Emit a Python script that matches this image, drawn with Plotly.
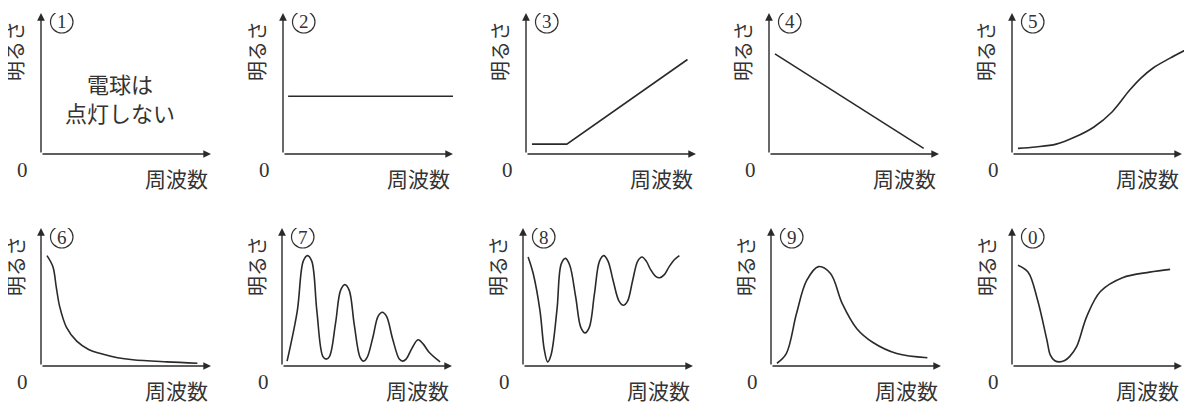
import plotly.graph_objects as go

# panel numbers (drawn inside circles), row 1 then row 2
labels = ["1", "2", "3", "4", "5", "6", "7", "8", "9", "0"]
y_title = "明るさ"
x_title = "周波数"
origin_label = "0"
note_text = "電球は<br>点灯しない"

# curves, x and y on a 0-100 scale (axis arrow tips at 100)
p1_x, p1_y = [], []
p2_x = [3, 100]
p2_y = [41, 41]
p3_x = [3.5, 24, 95]
p3_y = [7, 7, 67]
p4_x = [3.5, 91]
p4_y = [71, 4]
p5_x = [3.5, 14, 26, 37, 48, 59, 69, 76, 83, 93, 104]
p5_y = [4, 5, 7, 12, 19, 30, 45, 54, 61, 68, 75]
p6_x = [3.5, 7, 9, 11, 15, 21, 28, 35, 45, 54, 74, 92]
p6_y = [80, 72, 57, 43, 28, 18, 12, 9, 6, 4.5, 3, 2]
p7_x = [3, 9, 12.5, 15, 17.5, 20.5, 24, 26, 28, 31.5, 34.5, 37, 39.5, 42.5, 46, 48, 50,
        53.5, 56.5, 59, 61.5, 65, 69, 71, 73, 76.5, 80, 83, 86.5, 93]
p7_y = [3.5, 40, 76, 80, 76, 40, 7, 5, 7, 31, 55, 59, 55, 30, 6, 3.5, 6,
        21, 36, 39, 36, 20, 5, 3.5, 5, 13, 19, 16, 10, 3]
p8_x = [3, 6, 10, 12.5, 14.5, 16.5, 20, 22.5, 25, 27.5, 31, 34, 36.5, 39, 42, 45, 47.5,
        50, 53, 56.5, 59, 61.5, 64.5, 67.5, 70, 72.5, 75, 78, 80.5, 83, 86, 89, 92]
p8_y = [79, 67, 40, 12, 3, 8, 41, 74, 78, 73, 50, 28, 24, 28, 52, 76, 80,
        76, 62, 47, 44, 47, 62, 76, 79, 76, 70, 65, 64, 66, 72, 77, 80]
p9_x = [3.5, 9, 15, 21, 28, 35, 42, 50.5, 60, 74, 92]
p9_y = [2, 9, 38, 62, 72, 67, 45, 27, 17, 9, 6]
p0_x = [3.5, 9.5, 15, 20.5, 22.5, 25, 28, 31, 34, 38, 44, 52, 65, 81, 93]
p0_y = [73, 68, 48, 19, 8, 4, 3, 4, 7, 14, 36, 54, 64, 68, 70]

series = [(p1_x, p1_y), (p2_x, p2_y), (p3_x, p3_y), (p4_x, p4_y), (p5_x, p5_y),
          (p6_x, p6_y), (p7_x, p7_y), (p8_x, p8_y), (p9_x, p9_y), (p0_x, p0_y)]
straight = {1, 2, 3}   # panels drawn with straight segments

# the page body adds an 8px margin, so the figure is sized to fit inside it
W, H = 1184, 395
OFF = 8
AX_LEN = 170        # px from origin to arrow tip along x
PANEL_W = 180       # px width of each plotting domain
ink = "#2a2a2a"
txt = "#333333"
jp_font = "Noto Sans CJK JP"
serif = "Liberation Serif"

# pixel layout (window coordinates): origin x for each panel, baseline / top y per row
origins_x = [[41, 283, 526, 769, 1012], [41, 282, 523, 771, 1012]]
rows = [(154, 13), (366, 228)]

fig = go.Figure()
annotations = []
shapes = []

for i, (xs, ys) in enumerate(series):
    r, c = divmod(i, 5)
    n = i + 1
    ox = origins_x[r][c] - OFF
    base, top = rows[r][0] - OFF, rows[r][1] - OFF
    right = min(ox + PANEL_W, W)
    xa, ya = f"x{n}", f"y{n}"

    fig.update_layout({
        f"xaxis{n}": dict(domain=[ox / W, right / W],
                          range=[0, (right - ox) / AX_LEN * 100],
                          visible=False, anchor=ya),
        f"yaxis{n}": dict(domain=[(H - base) / H, (H - top) / H],
                          range=[0, 100], visible=False, anchor=xa),
    })

    if xs:
        shape = "linear" if i in straight else "spline"
        fig.add_trace(go.Scatter(
            x=xs, y=ys, mode="lines", xaxis=xa, yaxis=ya,
            line=dict(color=ink, width=1.6, shape=shape),
            showlegend=False, hoverinfo="skip"))

    # axes with arrowheads
    for tip in [(100, 0), (0, 100)]:
        annotations.append(dict(
            x=tip[0], y=tip[1], ax=0, ay=0, xref=xa, yref=ya, axref=xa, ayref=ya,
            text="", showarrow=True, arrowhead=2, arrowsize=1.1, arrowwidth=1.4,
            arrowcolor=ink))

    # circled panel number
    shapes.append(dict(
        type="circle", xref=xa, yref=ya, xsizemode="pixel", ysizemode="pixel",
        xanchor=0, yanchor=100, x0=9.5, x1=32, y0=-20, y1=2,
        line=dict(color=txt, width=1.2)))

    annotations += [
        dict(x=0, y=100, xref=xa, yref=ya, text=labels[i], showarrow=False,
             xanchor="center", yanchor="middle", xshift=21, yshift=-9,
             font=dict(family=serif, size=19, color=txt)),
        dict(x=0, y=100, xref=xa, yref=ya, text=y_title, showarrow=False,
             textangle=-90, xanchor="center", yanchor="middle",
             xshift=-26, yshift=-38, font=dict(family=jp_font, size=20, color=txt)),
        dict(x=0, y=0, xref=xa, yref=ya, text=origin_label, showarrow=False,
             xanchor="center", yanchor="middle", xshift=-19, yshift=-16,
             font=dict(family=serif, size=21, color=txt)),
        dict(x=100, y=0, xref=xa, yref=ya, text=x_title, showarrow=False,
             xanchor="right", yanchor="middle", xshift=-1, yshift=-24,
             font=dict(family=jp_font, size=21, color=txt)),
    ]

# note in panel 1
annotations.append(dict(
    x=46.5, y=40, xref="x1", yref="y1", text=note_text, showarrow=False,
    align="center", xanchor="center", yanchor="middle",
    font=dict(family=jp_font, size=22, color=txt)))

fig.update_layout(
    width=W, height=H,
    margin=dict(l=0, r=0, t=0, b=0),
    paper_bgcolor="white", plot_bgcolor="white",
    annotations=annotations, shapes=shapes,
)

fig.write_html("out.html")
